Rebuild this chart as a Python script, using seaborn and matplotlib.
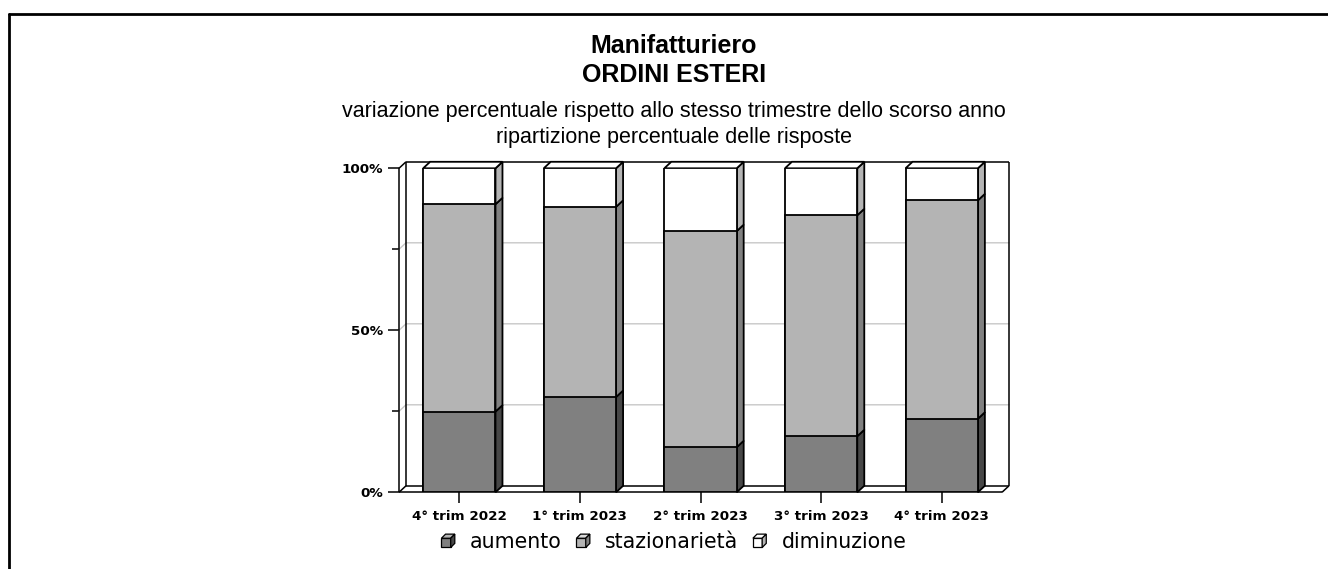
import matplotlib
matplotlib.use("Agg")
import matplotlib.pyplot as plt
import seaborn as sns
import numpy as np
import pandas as pd
from matplotlib.patches import Polygon, Patch
from matplotlib.lines import Line2D
from matplotlib.legend_handler import HandlerBase

# ---------------- data ----------------
categories = ["4° trim 2022", "1° trim 2023", "2° trim 2023", "3° trim 2023", "4° trim 2023"]
aumento = [24.9, 29.4, 13.9, 17.3, 22.7]
stazionarieta = [64.0, 58.7, 66.7, 68.2, 67.4]
diminuzione = [11.1, 11.9, 19.4, 14.5, 9.9]
series_names = ["aumento", "stazionarietà", "diminuzione"]
ytick_vals = [0, 50, 100]
ytick_labels = ["0%", "50%", "100%"]
title1 = "Manifatturiero"
title2 = "ORDINI ESTERI"
subtitle1 = "variazione percentuale rispetto allo stesso trimestre dello scorso anno"
subtitle2 = "ripartizione percentuale delle risposte"

front_colors = ["#808080", "#b4b4b4", "#ffffff"]
side_colors = ["#474747", "#808080", "#b4b4b4"]
top_colors = ["#b4b4b4", "#d9d9d9", "#ffffff"]

sns.set_style("white")
plt.rcParams["font.family"] = ["DejaVu Sans"]
plt.rcParams["text.color"] = "black"
plt.rcParams["xtick.color"] = "black"
plt.rcParams["ytick.color"] = "black"
plt.rcParams["axes.labelcolor"] = "black"

W, H = 1328, 569
fig = plt.figure(figsize=(W / 100, H / 100), dpi=100)
ax = fig.add_axes([399 / W, (H - 492.3) / H, 603 / W, 324 / H])

df = pd.DataFrame({"cat": categories,
                   "a": aumento, "s": stazionarieta, "d": diminuzione})
df["cum_a"] = df["a"]
df["cum_s"] = df["a"] + df["s"]
df["cum_d"] = df["a"] + df["s"] + df["d"]

lw = 1.3
sns.barplot(data=df, x="cat", y="cum_d", color=front_colors[2], width=0.6,
            edgecolor="black", linewidth=lw, saturation=1, ax=ax, zorder=3)
sns.barplot(data=df, x="cat", y="cum_s", color=front_colors[1], width=0.6,
            edgecolor="black", linewidth=lw, saturation=1, ax=ax, zorder=3)
sns.barplot(data=df, x="cat", y="cum_a", color=front_colors[0], width=0.6,
            edgecolor="black", linewidth=lw, saturation=1, ax=ax, zorder=3)

ax.set_xlim(-0.5, len(categories) - 0.5)
ax.set_ylim(0, 100)
ax.set_xlabel("")
ax.set_ylabel("")

# depth in data units (7 px right, 6.5 px up)
fig.canvas.draw()
bb = ax.get_window_extent()
dx = 7.0 * (len(categories)) / bb.width
dy = 6.5 * 100.0 / bb.height

x0, x1 = ax.get_xlim()

# back wall, floor & grid
gridc = "#c8c8c8"
for v in [25, 50, 75]:
    ax.plot([x0, x0 + dx, x1 + dx], [v, v + dy, v + dy], color=gridc, lw=1.0,
            clip_on=False, zorder=1)
box_lines = [
    ([x0, x0], [0, 100]),
    ([x0, x0 + dx], [100, 100 + dy]),
    ([x0 + dx, x1 + dx], [100 + dy, 100 + dy]),
    ([x1 + dx, x1 + dx], [100 + dy, dy]),
    ([x0 + dx, x1 + dx], [dy, dy]),
    ([x1, x1 + dx], [0, dy]),
    ([x0, x1], [0, 0]),
    ([x0 + dx, x0 + dx], [dy, 100 + dy]),
    ([x0, x0 + dx], [0, dy]),
]
for xs, ys in box_lines:
    ax.plot(xs, ys, color="black", lw=1.1, clip_on=False, zorder=2,
            solid_capstyle="butt")

# side and top faces of the bars
n = len(categories)
bars = ax.patches[:n]
bottoms = [np.zeros(n), np.array(aumento), np.array(aumento) + np.array(stazionarieta)]
tops = [np.array(aumento), np.array(aumento) + np.array(stazionarieta),
        np.array(aumento) + np.array(stazionarieta) + np.array(diminuzione)]
for i, p in enumerate(bars):
    xl = p.get_x()
    xr = p.get_x() + p.get_width()
    for k in range(3):
        b, t = bottoms[k][i], tops[k][i]
        side = Polygon([(xr, b), (xr + dx, b + dy), (xr + dx, t + dy), (xr, t)],
                       closed=True, facecolor=side_colors[k], edgecolor="black",
                       linewidth=lw, zorder=2.5, clip_on=False)
        ax.add_patch(side)
    t = tops[2][i]
    top = Polygon([(xl, t), (xl + dx, t + dy), (xr + dx, t + dy), (xr, t)],
                  closed=True, facecolor=top_colors[2], edgecolor="black",
                  linewidth=lw, zorder=2.5, clip_on=False)
    ax.add_patch(top)

# axes styling
for s in ax.spines.values():
    s.set_visible(False)
ax.grid(False)
ax.set_yticks(ytick_vals)
ax.set_yticklabels(ytick_labels)
ax.set_yticks([25, 75], minor=True)
ax.tick_params(axis="y", which="major", direction="out", length=8, width=1.1,
               color="black", pad=3.5, left=True, labelsize=9.7)
ax.tick_params(axis="y", which="minor", direction="out", length=5, width=1.1,
               color="black", left=True)
ax.tick_params(axis="x", which="major", direction="out", length=8, width=1.1,
               color="black", pad=5, bottom=True, labelsize=9.7)
for lab in ax.get_xticklabels() + ax.get_yticklabels():
    lab.set_fontweight("bold")
    lab.set_color("black")

# titles
cx = 674 / W
fig.text(cx, 1 - 46 / H, title1, ha="center", va="center", fontsize=18,
         fontweight="bold", color="black", family=["Liberation Sans", "DejaVu Sans"])
fig.text(cx, 1 - 75 / H, title2, ha="center", va="center", fontsize=18,
         fontweight="bold", color="black", family=["Liberation Sans", "DejaVu Sans"])
fig.text(cx, 1 - 111 / H, subtitle1, ha="center", va="center", fontsize=15.5,
         color="black", family=["Liberation Sans", "DejaVu Sans"])
fig.text(cx, 1 - 137 / H, subtitle2, ha="center", va="center", fontsize=15.5,
         color="black", family=["Liberation Sans", "DejaVu Sans"])


# legend with cube icons
class CubeHandler(HandlerBase):
    def create_artists(self, legend, orig_handle, xdescent, ydescent, width,
                       height, fontsize, trans):
        k = int(orig_handle.get_gid())
        a = fontsize * 0.45
        d = fontsize * 0.2
        bx = -xdescent + (width - a - d) / 2
        by = -ydescent + (height - a - d) / 2
        front = Polygon([(bx, by), (bx + a, by), (bx + a, by + a), (bx, by + a)],
                        closed=True, facecolor=front_colors[k], edgecolor="black",
                        linewidth=0.9)
        topp = Polygon([(bx, by + a), (bx + d, by + a + d), (bx + a + d, by + a + d),
                        (bx + a, by + a)], closed=True, facecolor=top_colors[k],
                       edgecolor="black", linewidth=0.9)
        sidep = Polygon([(bx + a, by), (bx + a + d, by + d), (bx + a + d, by + a + d),
                         (bx + a, by + a)], closed=True, facecolor=side_colors[k],
                        edgecolor="black", linewidth=0.9)
        for art in (front, topp, sidep):
            art.set_transform(trans)
        return [front, topp, sidep]


handles = []
for k, name in enumerate(series_names):
    h = Patch(facecolor=front_colors[k], label=name)
    h.set_gid(str(k))
    handles.append(h)
leg = fig.legend(handles=handles, loc="center", bbox_to_anchor=(674 / W, 1 - 542 / H),
                 ncol=3, frameon=False, fontsize=14.8, handlelength=0.65,
                 handleheight=0.7, handletextpad=0.75, columnspacing=0.7,
                 borderpad=0, borderaxespad=0,
                 handler_map={Patch: CubeHandler()})
for t in leg.get_texts():
    t.set_color("black")

# outer frame (top and left edges visible)
fl = 8.5 / W
ft = 1 - 13.5 / H
fig.add_artist(Line2D([fl, 1.0], [ft, ft], transform=fig.transFigure,
                      color="black", lw=2.0))
fig.add_artist(Line2D([fl, fl], [0.0, ft], transform=fig.transFigure,
                      color="black", lw=2.0))

fig.savefig("out.png", dpi=100)
